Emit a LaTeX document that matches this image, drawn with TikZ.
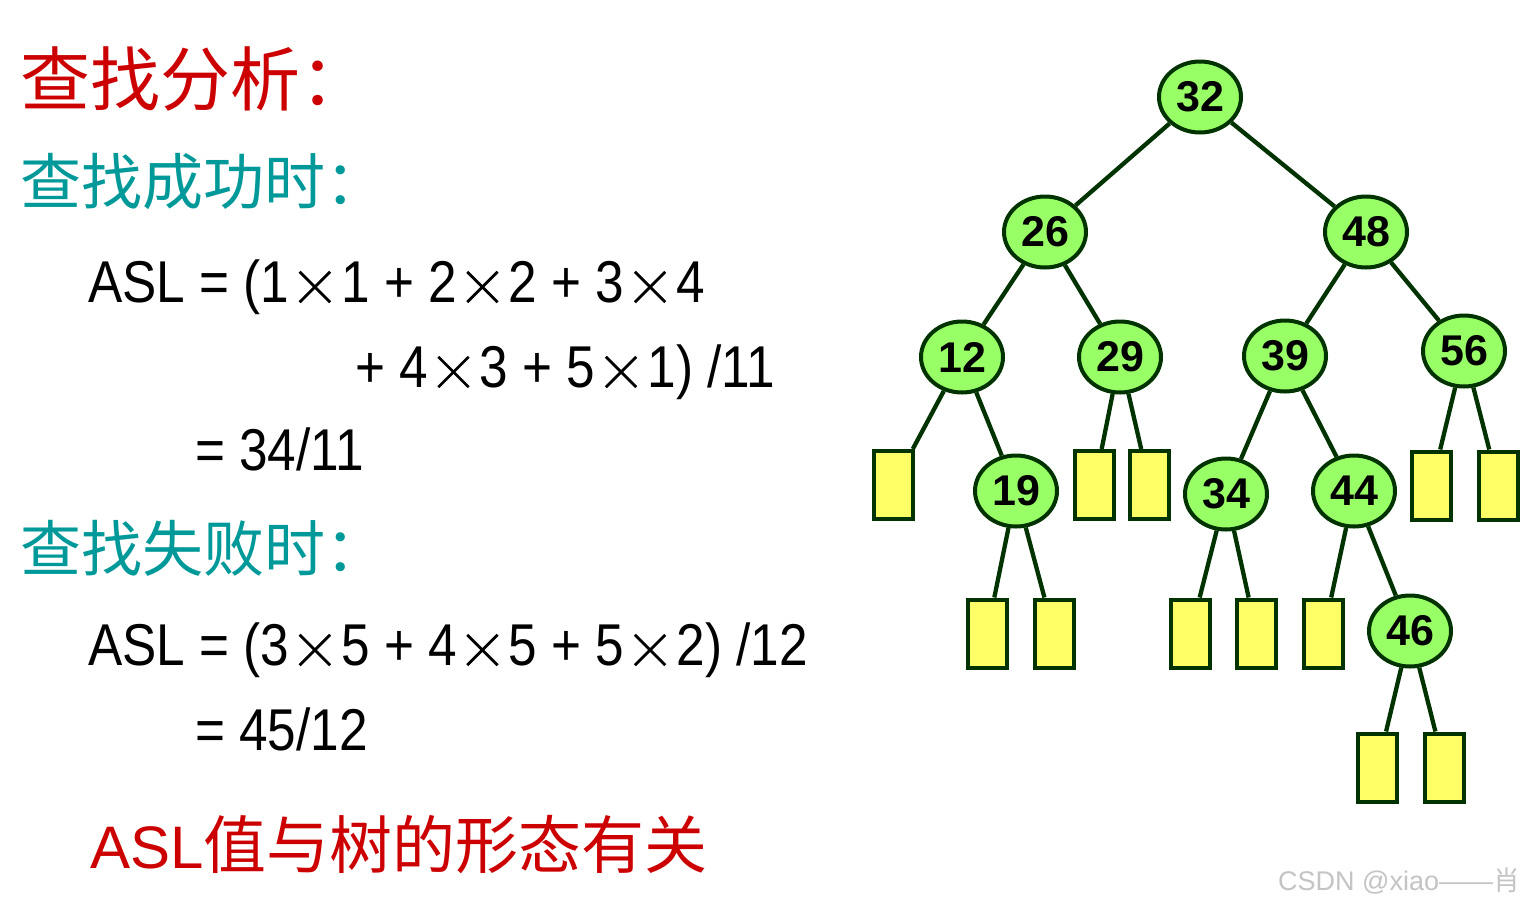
\documentclass[tikz,border=0pt]{standalone}
\usepackage{fontspec}
\usepackage{graphicx}
\setmainfont{Liberation Sans}
\newfontfamily\cjk{Noto Sans CJK SC}
\newfontfamily\aslf[FakeStretch=0.87]{Liberation Sans}
\usetikzlibrary{shapes.geometric}
\definecolor{edgegreen}{HTML}{003300}
\definecolor{nodegreen}{HTML}{99FF66}
\definecolor{leafyellow}{HTML}{FFFF66}
\definecolor{cred}{HTML}{CC0000}
\definecolor{cteal}{HTML}{009999}
\definecolor{wmgray}{HTML}{C4C4C4}
\newcommand\xbar[1]{\makebox[0pt]{\rotatebox[origin=c]{#1}{\rule[-1.4pt]{43pt}{2.8pt}}}}
\newcommand\mulsign{\kern10pt\makebox[31pt]{\raisebox{15pt}{\xbar{45}\xbar{-45}}}\kern11pt}
\tikzset{
  keynode/.style={ellipse, draw=edgegreen, fill=nodegreen, line width=4pt,
    minimum width=82pt, minimum height=71pt, inner sep=0pt,
    font=\fontsize{43}{43}\selectfont\bfseries},
  leafbox/.style={rectangle, draw=edgegreen, fill=leafyellow, line width=4pt,
    minimum width=39pt, minimum height=68pt, inner sep=0pt},
  edge/.style={draw=edgegreen, line width=4.3pt},
  redhead/.style={anchor=base west, inner sep=0pt, text=cred, font=\cjk\fontsize{70}{70}\selectfont},
  tealhead/.style={anchor=base west, inner sep=0pt, text=cteal, font=\cjk\fontsize{61}{61}\selectfont},
  formula/.style={anchor=base west, inner sep=0pt, text=black, font=\aslf\fontsize{59}{59}\selectfont},
}
\begin{document}
\begin{tikzpicture}[x=1pt,y=-1pt]
\useasboundingbox[fill=white] (0,0) rectangle (1532,906);

% left texts
\node[redhead] (h1) at (20,105) {查找分析：};
\node[tealhead] (h2) at (20,204) {查找成功时：};
\node[formula] (f1) at (88,302) {ASL = (1\mulsign 1 + 2\mulsign 2 + 3\mulsign 4};
\node[formula] (f2) at (355,387) {+ 4\mulsign 3 + 5\mulsign 1) /11};
\node[formula] (f3) at (195,470) {= 34/11};
\node[tealhead] (h3) at (20,571) {查找失败时：};
\node[formula] (f4) at (88,665) {ASL = (3\mulsign 5 + 4\mulsign 5 + 5\mulsign 2) /12};
\node[formula] (f5) at (195,750) {= 45/12};
\node[anchor=base west, inner sep=0pt, text=cred, font=\fontsize{60}{60}\selectfont] (concl) at (90,868) {ASL{\cjk\fontsize{63}{63}\selectfont 值与树的形态有关}};
\node[anchor=base west, inner sep=0pt, text=wmgray, font=\fontsize{27}{27}\selectfont] (wm) at (1278,890) {CSDN @xiao——{\cjk 肖}};

% tree nodes
\node[keynode] (n32) at (1200,97) {32};
\node[keynode] (n26) at (1045,232) {26};
\node[keynode] (n48) at (1366,232) {48};
\node[keynode] (n12) at (962,357) {12};
\node[keynode] (n29) at (1120,357) {29};
\node[keynode] (n39) at (1285,356) {39};
\node[keynode] (n56) at (1464,351) {56};
\node[keynode] (n19) at (1016,491) {19};
\node[keynode] (n34) at (1226,494) {34};
\node[keynode] (n44) at (1354,491) {44};
\node[keynode] (n46) at (1410,631) {46};

% leaves
\node[leafbox] (l12) at (893.5,485) {};
\node[leafbox] (l29a) at (1094.5,485) {};
\node[leafbox] (l29b) at (1149.5,485) {};
\node[leafbox] (l56a) at (1431.5,485.5) {};
\node[leafbox] (l56b) at (1498.5,485.5) {};
\node[leafbox] (l19a) at (987,633.5) {};
\node[leafbox] (l19b) at (1054,633.5) {};
\node[leafbox] (l34a) at (1190.5,633.5) {};
\node[leafbox] (l34b) at (1256.5,633.5) {};
\node[leafbox] (l44) at (1323.5,633.5) {};
\node[leafbox] (l46a) at (1377.5,767.5) {};
\node[leafbox] (l46b) at (1444.5,767.5) {};

% edges
\draw[edge] (n32) -- (n26);
\draw[edge] (n32) -- (n48);
\draw[edge] (n26) -- (n12);
\draw[edge] (n26) -- (n29);
\draw[edge] (n48) -- (n39);
\draw[edge] (n48) -- (n56);
\draw[edge] (n12) -- (l12);
\draw[edge] (n12) -- (n19);
\draw[edge] (n29) -- (l29a);
\draw[edge] (n29) -- (l29b);
\draw[edge] (n39) -- (n34);
\draw[edge] (n39) -- (n44);
\draw[edge] (n56) -- (l56a);
\draw[edge] (n56) -- (l56b);
\draw[edge] (n19) -- (l19a);
\draw[edge] (n19) -- (l19b);
\draw[edge] (n34) -- (l34a);
\draw[edge] (n34) -- (l34b);
\draw[edge] (n44) -- (l44);
\draw[edge] (n44) -- (n46);
\draw[edge] (n46) -- (l46a);
\draw[edge] (n46) -- (l46b);
\end{tikzpicture}
\end{document}
